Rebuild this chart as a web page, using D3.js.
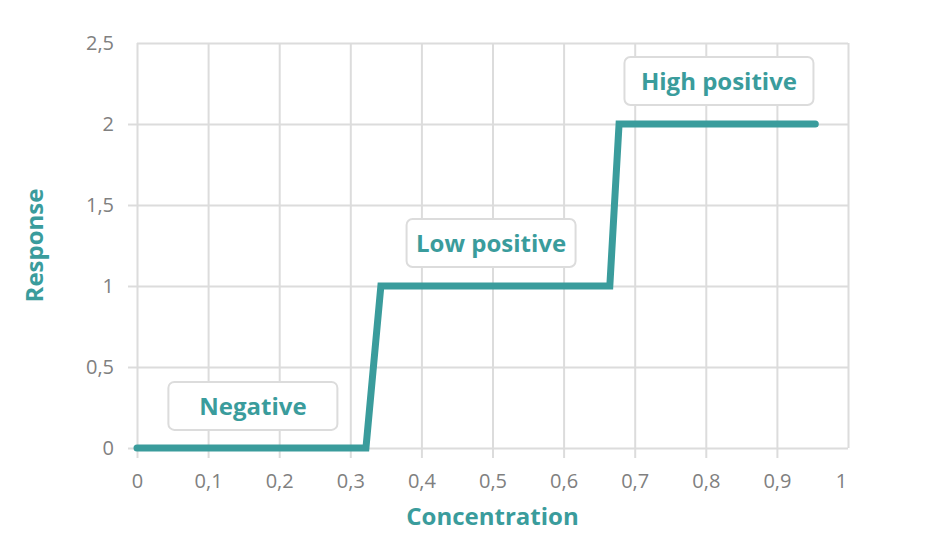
<!DOCTYPE html>
<html>
<head>
<meta charset="utf-8">
<script src="https://cdn.jsdelivr.net/npm/d3@7"></script>
<style>
  html, body { margin: 0; padding: 0; background: #fff; }
  svg { display: block; font-family: "Open Sans", sans-serif; }
</style>
</head>
<body>
<svg id="chart" width="926" height="552"></svg>
<script>
// ---- data ----
const concentration = [0, 0.322, 0.343, 0.665, 0.678, 0.954];
const response      = [0, 0, 1, 1, 2, 2];
const xTicks = [0, 0.1, 0.2, 0.3, 0.4, 0.5, 0.6, 0.7, 0.8, 0.9, 1];
const yTicks = [0, 0.5, 1, 1.5, 2, 2.5];
const labelNames = ["Negative", "Low positive", "High positive"];
const labelX = [0.163, 0.498, 0.8185];
const labelY = [0.26, 1.265, 2.265];
const xTitle = "Concentration";
const yTitle = "Response";

// ---- layout / style ----
const teal = "#3a9c9c", grid = "#dcdcdc", tickText = "#808080";
const margin = { left: 137, right: 926 - 848, top: 43, bottom: 552 - 448 };
const W = 926, H = 552;
const labelBoxW = [169, 169, 189];
const labelBoxH = 48;

const svg = d3.select("#chart");
const x = d3.scaleLinear().domain([0, 1]).range([margin.left, W - margin.right]);
const y = d3.scaleLinear().domain([0, 2.5]).range([H - margin.bottom, margin.top]);
const fmt = d => String(d).replace(".", ",");

// gridlines
svg.append("g").attr("transform", `translate(0,${y(0)})`)
  .call(d3.axisBottom(x).tickValues(xTicks).tickSize(-(y(0) - y(2.5))).tickFormat(""))
  .call(g => g.select(".domain").remove())
  .call(g => g.selectAll("line").attr("stroke", grid).attr("stroke-width", 2));
svg.append("g").attr("transform", `translate(${x(0)},0)`)
  .call(d3.axisLeft(y).tickValues(yTicks).tickSize(-(x(1) - x(0))).tickFormat(""))
  .call(g => g.select(".domain").remove())
  .call(g => g.selectAll("line").attr("stroke", grid).attr("stroke-width", 2));

// axes with ticks + labels
svg.append("g").attr("transform", `translate(0,${y(0)})`)
  .call(d3.axisBottom(x).tickValues(xTicks).tickSize(10).tickPadding(16).tickFormat(fmt))
  .call(g => g.select(".domain").remove())
  .call(g => g.selectAll("line").attr("stroke", grid).attr("stroke-width", 2)
    .attr("display", d => d === 1 ? "none" : null))
  .call(g => g.selectAll("text").attr("fill", tickText).attr("font-size", 20)
    .attr("font-family", "Open Sans")
    .attr("dx", d => d === 1 ? -7 : 0));
svg.append("g").attr("transform", `translate(${x(0)},0)`)
  .call(d3.axisLeft(y).tickValues(yTicks).tickSize(9).tickPadding(14).tickFormat(fmt))
  .call(g => g.select(".domain").remove())
  .call(g => g.selectAll("line").attr("stroke", grid).attr("stroke-width", 2)
    .attr("display", d => d === 2.5 ? "none" : null))
  .call(g => g.selectAll("text").attr("fill", tickText).attr("font-size", 20)
    .attr("font-family", "Open Sans"));

// line
const line = d3.line().x((d, i) => x(concentration[i])).y((d, i) => y(response[i]));
svg.append("path").datum(response)
  .attr("d", line)
  .attr("fill", "none").attr("stroke", teal).attr("stroke-width", 7)
  .attr("stroke-linecap", "round").attr("stroke-linejoin", "miter");

// labels
const lab = svg.append("g").selectAll("g").data(labelNames).join("g")
  .attr("transform", (d, i) => `translate(${x(labelX[i])},${y(labelY[i])})`);
lab.append("rect")
  .attr("x", (d, i) => -labelBoxW[i] / 2).attr("y", -labelBoxH / 2)
  .attr("width", (d, i) => labelBoxW[i]).attr("height", labelBoxH)
  .attr("rx", 6).attr("fill", "#fff").attr("stroke", grid).attr("stroke-width", 2);
lab.append("text").text(d => d)
  .attr("text-anchor", "middle").attr("dy", "0.36em")
  .attr("fill", teal).attr("font-size", 24).attr("font-weight", "bold");

// axis titles
svg.append("text").text(xTitle)
  .attr("x", (x(0) + x(1)) / 2).attr("y", 525)
  .attr("text-anchor", "middle").attr("fill", teal)
  .attr("font-size", 24).attr("font-weight", "bold");
svg.append("text").text(yTitle)
  .attr("transform", `translate(43,${(y(0) + y(2.5)) / 2}) rotate(-90)`)
  .attr("text-anchor", "middle").attr("fill", teal)
  .attr("font-size", 24).attr("font-weight", "bold");
</script>
</body>
</html>
